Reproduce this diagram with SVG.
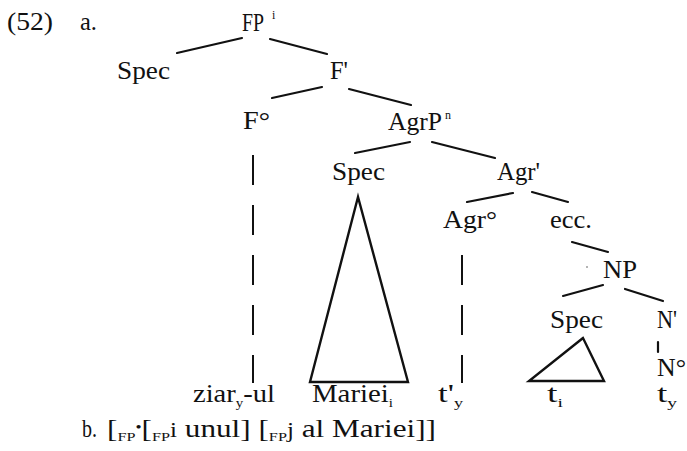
<svg xmlns="http://www.w3.org/2000/svg" width="687" height="451" viewBox="0 0 687 451">
<style>
text{font-family:"Liberation Serif","Times New Roman",serif;font-size:25px;fill:#111;}
.sub{font-size:13px;}
.sup{font-size:12px;}
.e{stroke:#111;stroke-width:2.2;fill:none;stroke-linecap:round;}
.d{stroke:#111;stroke-width:2;fill:none;stroke-dasharray:30 20;}
.tri{stroke:#111;stroke-width:2.4;fill:none;stroke-linejoin:miter;}
</style>
<rect width="687" height="451" fill="#fff"/>
<g id="label">
<text x="7" y="30" textLength="46" lengthAdjust="spacingAndGlyphs">(52)</text>
<text x="80" y="30" textLength="17" lengthAdjust="spacingAndGlyphs">a.</text>
</g>
<g id="FP">
<text x="242" y="31" textLength="22" lengthAdjust="spacingAndGlyphs">FP</text>
<text class="sup" x="272" y="19">i</text>
</g>
<g id="Spec1"><text x="117" y="79" textLength="53" lengthAdjust="spacingAndGlyphs">Spec</text></g>
<g id="Fbar"><text x="330" y="79" textLength="18" lengthAdjust="spacingAndGlyphs">F'</text></g>
<g id="F0"><text x="243" y="129" textLength="27" lengthAdjust="spacingAndGlyphs">F°</text></g>
<g id="AgrP">
<text x="388" y="130" textLength="54" lengthAdjust="spacingAndGlyphs">AgrP</text>
<text class="sup" x="445" y="119">n</text>
</g>
<g id="Spec2"><text x="332" y="180" textLength="53" lengthAdjust="spacingAndGlyphs">Spec</text></g>
<g id="Agrbar"><text x="497" y="180" textLength="43" lengthAdjust="spacingAndGlyphs">Agr'</text></g>
<g id="Agr0"><text x="443" y="228" textLength="54" lengthAdjust="spacingAndGlyphs">Agr°</text></g>
<g id="ecc"><text x="550" y="228" textLength="42" lengthAdjust="spacingAndGlyphs">ecc.</text></g>
<g id="NP"><text x="603" y="278" textLength="34" lengthAdjust="spacingAndGlyphs">NP</text></g>
<g id="Spec3"><text x="550" y="328" textLength="53" lengthAdjust="spacingAndGlyphs">Spec</text></g>
<g id="Nbar"><text x="657" y="328" textLength="20" lengthAdjust="spacingAndGlyphs">N'</text></g>
<g id="N0"><text x="657" y="376" textLength="29" lengthAdjust="spacingAndGlyphs">N°</text></g>
<g id="ziar"><text x="193" y="402" textLength="82" lengthAdjust="spacingAndGlyphs">ziar<tspan class="sub" dy="5">y</tspan><tspan dy="-5">-ul</tspan></text></g>
<g id="Mariei"><text x="312" y="402" textLength="81" lengthAdjust="spacingAndGlyphs">Mariei<tspan class="sub" dy="5">i</tspan></text></g>
<g id="tpy"><text x="438" y="402" textLength="25" lengthAdjust="spacingAndGlyphs">t'<tspan class="sub" dy="5">y</tspan></text></g>
<g id="ti"><text x="547" y="402" textLength="16" lengthAdjust="spacingAndGlyphs">t<tspan class="sub" dy="5">i</tspan></text></g>
<g id="ty"><text x="657" y="402" textLength="20" lengthAdjust="spacingAndGlyphs">t<tspan class="sub" dy="5">y</tspan></text></g>
<g id="lineb">
<text x="82" y="437" textLength="15" lengthAdjust="spacingAndGlyphs">b.</text>
<text x="107" y="437" textLength="329" lengthAdjust="spacingAndGlyphs">[<tspan class="sub" dy="4">FP</tspan><tspan font-size="14" dy="-9">•</tspan><tspan dy="5">[</tspan><tspan class="sub" dy="4">FP</tspan><tspan font-size="20" dy="-4">i</tspan> unul] [<tspan class="sub" dy="4">FP</tspan><tspan font-size="20" dy="-4">j</tspan> al Mariei]]</text>
</g>
<g id="connectors">
<line class="e" x1="242" y1="38" x2="177" y2="53"/>
<line class="e" x1="270" y1="39" x2="327" y2="54"/>
<line class="e" x1="322" y1="87" x2="272" y2="98"/>
<line class="e" x1="349" y1="89" x2="411" y2="105"/>
<line class="e" x1="410" y1="142" x2="355" y2="153"/>
<line class="e" x1="432" y1="142" x2="495" y2="158"/>
<line class="e" x1="513" y1="193" x2="467" y2="202"/>
<line class="e" x1="532" y1="192" x2="568" y2="202"/>
<line class="e" x1="572" y1="242" x2="608" y2="252"/>
<line class="e" x1="603" y1="285" x2="563" y2="296"/>
<line class="e" x1="625" y1="289" x2="663" y2="301"/>
<line class="e" x1="658" y1="342" x2="658" y2="352"/>
<line class="d" x1="253" y1="155" x2="253" y2="383"/>
<line class="d" x1="462" y1="255" x2="462" y2="383"/>
<polygon class="tri" points="358,197 310,382 408,382"/>
<polygon class="tri" points="583,338 529,381 604,381"/>
<circle cx="587" cy="267" r="0.8" fill="#555"/>
</g>
</svg>
